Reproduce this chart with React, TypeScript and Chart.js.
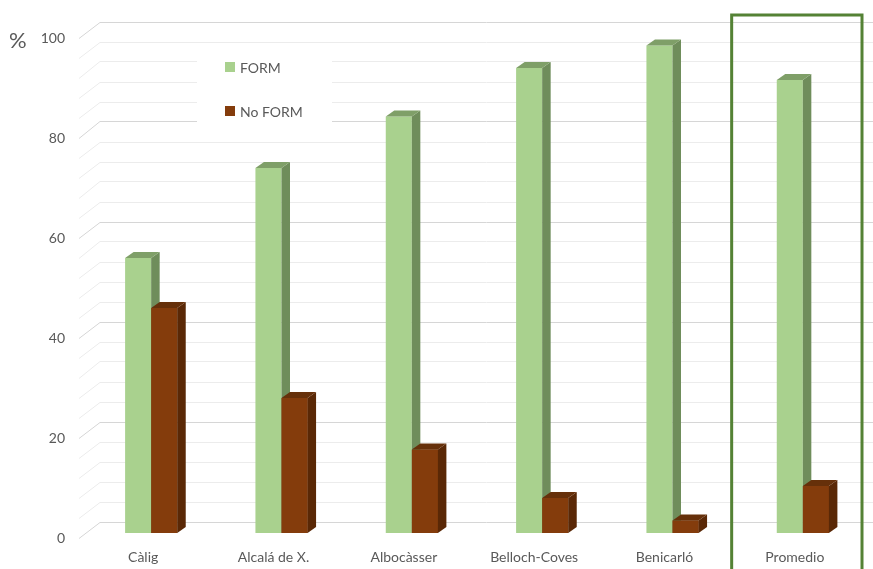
import React, { useEffect, useRef } from "react";
import { Chart, registerables } from "chart.js";

Chart.register(...registerables);

const categories = ["Càlig", "Alcalá de X.", "Albocàsser", "Belloch-Coves", "Benicarló", "Promedio"];
const formValues = [55, 73, 83.3, 93, 97.5, 90.6];
const noFormValues = [45, 27, 16.7, 7, 2.5, 9.4];
const seriesNames = ["FORM", "No FORM"];
const yTickLabels = [0, 20, 40, 60, 80, 100];
const gridStep = 4;
const highlightCategory = "Promedio";
const unitLabel = "%";

const FONT = "Lato, 'Open Sans', sans-serif";
const TEXT = "#595959";
const DX = 8.5;
const DY = 6;

function drawFaces(ctx: any, el: any, ds: any) {
  const { x, y, base, width } = el.getProps(["x", "y", "base", "width"], true);
  const l = x - width / 2;
  const r = x + width / 2;
  ctx.fillStyle = ds.sideColor;
  ctx.beginPath();
  ctx.moveTo(r, y);
  ctx.lineTo(r + DX, y - DY);
  ctx.lineTo(r + DX, base - DY);
  ctx.lineTo(r, base);
  ctx.closePath();
  ctx.fill();
  ctx.fillStyle = ds.topColor;
  ctx.beginPath();
  ctx.moveTo(l, y);
  ctx.lineTo(l + DX, y - DY);
  ctx.lineTo(r + DX, y - DY);
  ctx.lineTo(r, y);
  ctx.closePath();
  ctx.fill();
}

const wallPlugin = {
  id: "wall3d",
  beforeDatasetsDraw(chart: any) {
    const { ctx, chartArea } = chart;
    const y = chart.scales.y;
    ctx.save();
    ctx.lineWidth = 1;
    for (let v = y.min; v <= y.max + 0.001; v += gridStep) {
      const py = y.getPixelForValue(v);
      const back = Math.round(py - 11.5) + 0.5;
      const front = Math.round(py + 5) + 0.5;
      ctx.strokeStyle = v % 20 === 0 ? "#d6d6d6" : "#ececec";
      ctx.beginPath();
      ctx.moveTo(chartArea.left - 7, front);
      ctx.lineTo(chartArea.left + 14, back);
      ctx.lineTo(chart.width, back);
      ctx.stroke();
    }
    ctx.restore();
  },
  afterDatasetsDraw(chart: any) {
    const { ctx } = chart;
    ctx.save();
    chart.data.datasets.forEach((ds: any, i: number) => {
      const meta = chart.getDatasetMeta(i);
      meta.data.forEach((el: any) => {
        if (i > 0) el.draw(ctx);
        drawFaces(ctx, el, ds);
      });
    });
    ctx.restore();
  },
  afterDraw(chart: any) {
    const { ctx, chartArea } = chart;
    const xs = chart.scales.x;
    ctx.save();
    const lx = chartArea.left + 111;
    const ly = 50;
    ctx.fillStyle = "#ffffff";
    ctx.fillRect(lx, ly, 135, 80);
    ctx.font = `14px ${FONT}`;
    ctx.textBaseline = "middle";
    ctx.textAlign = "left";
    chart.data.datasets.forEach((ds: any, i: number) => {
      const yc = 67 + i * 44;
      ctx.fillStyle = ds.backgroundColor;
      ctx.fillRect(lx + 28, yc - 5, 10, 10);
      ctx.fillStyle = TEXT;
      ctx.fillText(ds.label, lx + 43, yc + 1);
    });
    ctx.font = `22px ${FONT}`;
    ctx.fillStyle = TEXT;
    ctx.fillText(unitLabel, 9, 41);
    const idx = categories.indexOf(highlightCategory);
    if (idx >= 0) {
      const cx = xs.getPixelForValue(idx);
      const half = (xs.getPixelForValue(1) - xs.getPixelForValue(0)) / 2;
      ctx.strokeStyle = "#548235";
      ctx.lineWidth = 3;
      ctx.strokeRect(cx - 6 - half, 15, half * 2, chart.height + 20);
    }
    ctx.restore();
  },
};

export default function App() {
  const ref = useRef<HTMLCanvasElement>(null);
  useEffect(() => {
    document.body.style.margin = "0";
    const chart = new Chart(ref.current!, {
      type: "bar",
      data: {
        labels: categories,
        datasets: [
          {
            label: seriesNames[0],
            data: formValues,
            backgroundColor: "#a9d18e",
            sideColor: "#6f8d5b",
            topColor: "#7f9f68",
            categoryPercentage: 0.4,
            barPercentage: 1,
            borderWidth: 0,
          } as any,
          {
            label: seriesNames[1],
            data: noFormValues,
            backgroundColor: "#843c0c",
            sideColor: "#5a2806",
            topColor: "#66300a",
            categoryPercentage: 0.4,
            barPercentage: 1,
            borderWidth: 0,
          } as any,
        ],
      },
      options: {
        animation: false,
        responsive: true,
        maintainAspectRatio: false,
        layout: { padding: { top: 33, right: 5, left: 0, bottom: 0 } },
        plugins: { legend: { display: false }, tooltip: { enabled: false } },
        scales: {
          x: {
            grid: { display: false, drawTicks: false },
            border: { display: false },
            ticks: { color: TEXT, font: { family: FONT, size: 14 }, padding: 16, labelOffset: -8, maxRotation: 0 },
            afterFit: (s: any) => { s.height = 36; },
          },
          y: {
            min: 0,
            max: 100,
            grid: { display: false, drawTicks: false },
            border: { display: false },
            afterBuildTicks: (s: any) => { s.ticks = yTickLabels.map((v) => ({ value: v })); },
            ticks: { color: TEXT, font: { family: FONT, size: 14 }, padding: 21, labelOffset: 5 },
            afterFit: (s: any) => { s.width = 86; },
          },
        },
      },
      plugins: [wallPlugin],
    });
    return () => chart.destroy();
  }, []);
  return (
    <div style={{ width: 873, height: 569, position: "relative" }}>
      <canvas ref={ref} />
    </div>
  );
}
